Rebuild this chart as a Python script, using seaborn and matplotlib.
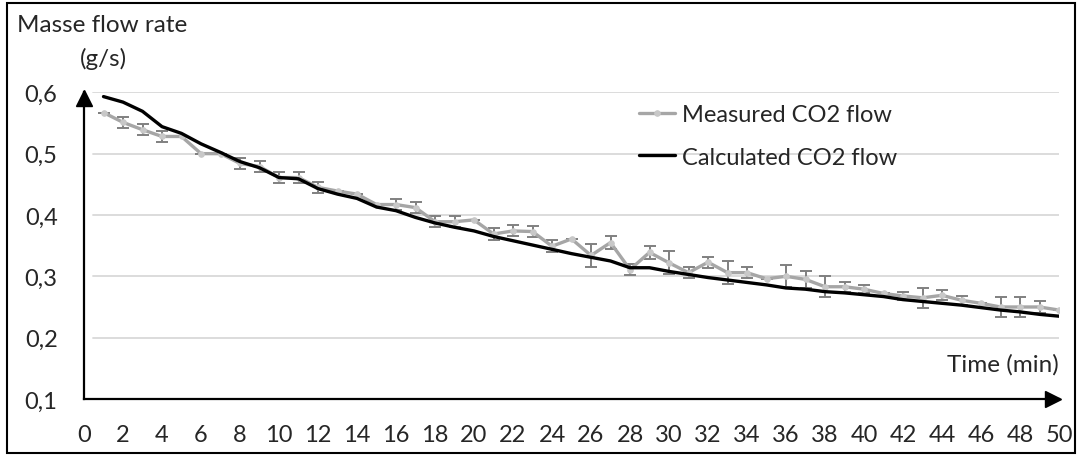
import numpy as np
import pandas as pd
import matplotlib
matplotlib.use("Agg")
import matplotlib.pyplot as plt
import matplotlib.transforms as mtransforms
import seaborn as sns
from matplotlib.patches import Rectangle

# ---------------- data ----------------
time_min = list(range(1, 51))
measured = [0.567, 0.551, 0.539, 0.528, 0.528, 0.500, 0.500, 0.484, 0.479, 0.461,
            0.461, 0.445, 0.439, 0.434, 0.417, 0.417, 0.412, 0.389, 0.389, 0.392,
            0.369, 0.374, 0.373, 0.349, 0.361, 0.334, 0.355, 0.311, 0.339, 0.322,
            0.306, 0.323, 0.306, 0.306, 0.296, 0.300, 0.295, 0.283, 0.283, 0.279,
            0.272, 0.268, 0.265, 0.269, 0.261, 0.256, 0.250, 0.250, 0.250, 0.245]
measured_err = [0, .009, .009, .009, 0, 0, 0, .009, .009, .009,
                .009, .009, 0, 0, 0, .009, .009, .009, .009, 0,
                .009, .009, .009, .010, 0, .019, .010, .009, .010, .019,
                .009, .009, .019, .009, 0, .018, .014, .017, .008, .007,
                0, .007, .016, .008, .007, 0, .016, .016, .009, 0]
calculated = [0.593, 0.584, 0.569, 0.544, 0.533, 0.516, 0.502, 0.487, 0.477, 0.461,
              0.459, 0.443, 0.434, 0.427, 0.413, 0.407, 0.396, 0.387, 0.380, 0.374,
              0.365, 0.358, 0.351, 0.344, 0.337, 0.331, 0.325, 0.314, 0.314, 0.308,
              0.303, 0.298, 0.294, 0.290, 0.286, 0.281, 0.279, 0.275, 0.273, 0.270,
              0.267, 0.262, 0.259, 0.256, 0.253, 0.249, 0.245, 0.242, 0.238, 0.235]
series_names = ["Measured CO2 flow", "Calculated CO2 flow"]
x_ticks = list(range(0, 51))
x_tick_labels = [str(v) if v % 2 == 0 else "" for v in x_ticks]
y_ticks = [0.1, 0.2, 0.3, 0.4, 0.5, 0.6]
y_tick_labels = ["0,1", "0,2", "0,3", "0,4", "0,5", "0,6"]

# ---------------- style ----------------
sns.set_theme(style="white")
plt.rcParams['font.family'] = ['Lato', 'DejaVu Sans']
FS = 17

fig = plt.figure(figsize=(10.84, 4.56), dpi=100)
ax = fig.add_axes([84 / 1084, 1 - 400 / 456, (1059 - 84) / 1084, (400 - 93.3) / 456])

df = pd.DataFrame({"t": time_min, "measured": measured, "err": measured_err,
                   "calculated": calculated})

# gridlines
for yv in y_ticks[1:]:
    ax.axhline(yv, color="#d9d9d9", lw=1.3, zorder=0, xmin=9 / 975)

# error bars
ax.errorbar(df["t"], df["measured"], yerr=df["err"], fmt="none",
            ecolor="#808080", elinewidth=1.4, capsize=4, capthick=1.4, zorder=2)
sns.lineplot(data=df, x="t", y="measured", ax=ax, color="#a6a6a6", lw=2.4,
             marker="o", markersize=4, markerfacecolor="#c8c8c8",
             markeredgecolor="#c8c8c8", label=series_names[0], zorder=3)
sns.lineplot(data=df, x="t", y="calculated", ax=ax, color="black", lw=2.4,
             label=series_names[1], zorder=4)

ax.set_xlim(0, 50)
ax.set_ylim(0.1, 0.6)
ax.set_xticks(x_ticks)
ax.set_xticklabels(x_tick_labels, fontsize=FS)
ax.set_yticks(y_ticks)
ax.set_yticklabels(y_tick_labels, fontsize=FS)
ax.tick_params(axis="x", direction="in", length=7, width=1.2, color="black", pad=18)
ax.tick_params(axis="y", direction="in", length=8, width=1.2, color="black", pad=19)
ax.set_xlabel("")
ax.set_ylabel("")
for s in ["top", "right"]:
    ax.spines[s].set_visible(False)
for s in ["left", "bottom"]:
    ax.spines[s].set_color("black")
    ax.spines[s].set_linewidth(1.6)

# arrows on axes ends (tip at the axis end)
tr_x = mtransforms.offset_copy(ax.transAxes, fig=fig, x=-6, y=0, units="dots")
tr_y = mtransforms.offset_copy(ax.transAxes, fig=fig, x=0, y=-6, units="dots")
ax.plot(1, 0, marker=">", color="black", markersize=11, transform=tr_x,
        clip_on=False, zorder=5)
ax.plot(0, 1, marker="^", color="black", markersize=11, transform=tr_y,
        clip_on=False, zorder=5)

leg = ax.legend(loc="upper left", bbox_to_anchor=(0.547, 1.03), frameon=False,
                fontsize=FS, handlelength=1.55, handletextpad=0.3, labelspacing=0.9)

ax.text(1.0, 0.115, "Time (min)", transform=ax.transAxes, ha="right", va="center",
        fontsize=FS + 0.5)
fig.text(17 / 1084, 1 - 25 / 456, "Masse flow rate", ha="left", va="center", fontsize=FS + 0.5)
fig.text(103 / 1084, 1 - 59 / 456, "(g/s)", ha="center", va="center", fontsize=FS + 0.5)

fig.patches.append(Rectangle((7 / 1084, 2 / 456), 1068 / 1084, 450 / 456,
                             transform=fig.transFigure, fill=False,
                             edgecolor="black", lw=1.5))

fig.savefig("out.png", dpi=100)
